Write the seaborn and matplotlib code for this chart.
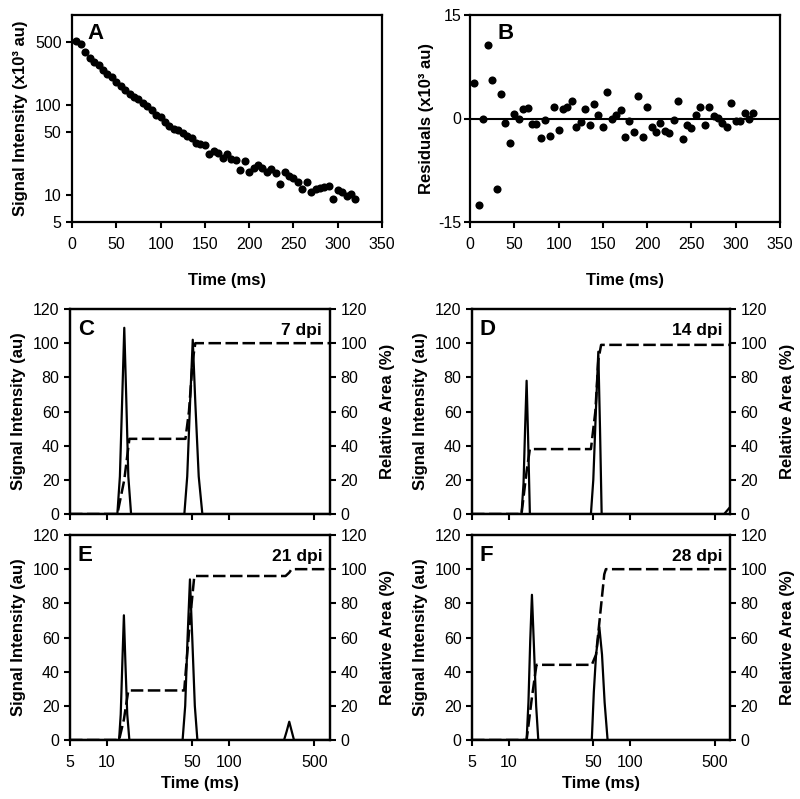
import numpy as np
import matplotlib
matplotlib.use("Agg")
import matplotlib.pyplot as plt
import seaborn as sns

sns.set_style("ticks")
plt.rcParams['font.family'] = ['Liberation Sans', 'DejaVu Sans']
plt.rcParams['axes.unicode_minus'] = False
plt.rcParams['text.color'] = 'black'
plt.rcParams['axes.labelcolor'] = 'black'

# ---- Panel A / B data (time in ms, signal and residuals in 10^3 au)
time_ab = list(range(5, 325, 5))
signal_a = [510, 470, 390, 333, 300, 275, 242, 222, 204, 182,
            162, 147, 133, 124, 115, 105, 97, 89, 77, 73,
            65, 59, 54, 53, 49, 45, 42.4, 38.2, 36.6, 36,
            28.3, 30.8, 29, 26, 28.3, 25.3, 24.5, 18.9, 23.9, 17.9,
            20, 21.5, 20, 17.9, 19.2, 17.7, 13.1, 17.9, 16.2, 15.5,
            13.9, 11.7, 13.9, 10.7, 11.7, 12, 12.3, 12.7, 8.9, 11.3,
            10.8, 9.7, 10.3, 9.1]
resid_b = [5.2, -12.5, 0, 10.7, 5.6, -10.2, 3.5, -0.7, -3.6, 0.6,
           0, 1.4, 1.5, -0.8, -0.8, -2.8, -0.2, -2.6, 1.6, -1.7,
           1.35, 1.7, 2.6, -1.2, -0.5, 1.35, -0.9, 2.1, 0.5, -1.3,
           3.9, -0.1, 0.5, 1.3, -2.7, -0.3, -1.9, 3.2, -2.7, 1.7,
           -1.2, -2.0, -0.6, -1.8, -2.1, -0.2, 2.6, -2.9, -1.0, -1.4,
           0.5, 1.6, -1.0, 1.7, 0.4, 0.05, -0.6, -1.2, 2.3, -0.3,
           -0.3, 0.8, 0, 0.8]

# ---- Panels C-F: T2 distributions (solid) and cumulative area (dashed)
c_t = [5, 12.2, 12.8, 13.4, 13.9, 14.4, 15.0, 15.8, 43.1, 45.5, 48, 50.5, 53, 56.5, 60.5, 670]
c_sig = [0, 0, 22, 70, 109, 70, 22, 0, 0, 22, 65, 102, 65, 22, 0, 0]
c_at = [5, 12.2, 13.9, 15.3, 44, 47, 50.5, 53, 670]
c_area = [0, 0, 20, 44, 44, 60, 90, 100, 100]

d_t = [5, 12.8, 13.3, 13.7, 14.1, 14.5, 15.0, 47.8, 50, 52.5, 55, 56.8, 58.6, 600, 670]
d_sig = [0, 0, 18, 50, 78, 45, 0, 0, 20, 60, 95, 50, 0, 0, 4]
d_at = [5, 12.8, 14.1, 15.0, 47.8, 52, 55, 58, 670]
d_area = [0, 0, 25, 38, 38, 60, 90, 99, 99]

e_t = [5, 12.6, 13.0, 13.4, 13.8, 14.2, 14.7, 15.3, 41.7, 43.8, 45.8, 47.9, 50, 52.5, 55.1,
       282, 296, 311, 326, 340, 670]
e_sig = [0, 0, 15, 45, 73, 45, 15, 0, 0, 20, 60, 94, 60, 20, 0,
         0, 5, 10.7, 5, 0, 0]
e_at = [5, 12.6, 13.8, 15.0, 43, 47.9, 52, 290, 311, 325, 670]
e_area = [0, 0, 12, 29, 29, 70, 96, 96, 98, 100, 100]

f_t = [5, 14.1, 14.6, 15.1, 15.6, 16.2, 16.9, 17.6, 48.6, 50.5, 52.7, 56.1, 59, 62, 65.6, 670]
f_sig = [0, 0, 22, 58, 85, 55, 20, 0, 0, 28, 50, 66, 50, 22, 0, 0]
f_at = [5, 14.1, 15.6, 17.0, 48.6, 52.7, 61.6, 63.5, 670]
f_area = [0, 0, 25, 44, 44, 50, 97, 100, 100]

dist_panels = [
    ("C", "7 dpi", c_t, c_sig, c_at, c_area),
    ("D", "14 dpi", d_t, d_sig, d_at, d_area),
    ("E", "21 dpi", e_t, e_sig, e_at, e_area),
    ("F", "28 dpi", f_t, f_sig, f_at, f_area),
]
log_ticks = [5, 10, 50, 100, 500]

W, H = 800, 799
fig = plt.figure(figsize=(8, 7.99), dpi=100)


def box(l, t, r, b):
    return [l / W, 1 - b / H, (r - l) / W, (b - t) / H]


def style(ax):
    for s in ax.spines.values():
        s.set_visible(True)
        s.set_linewidth(1.6)
        s.set_color('black')
    ax.tick_params(direction='out', length=4, width=1.5, labelsize=11.5,
                   colors='black')
    ax.tick_params(axis='x', pad=7)
    ax.tick_params(which='minor', length=0)


lab_font = dict(fontsize=12, fontweight='bold')

# ---- A
axA = fig.add_axes(box(72, 15, 382, 222))
sns.scatterplot(x=time_ab, y=signal_a, ax=axA, color='black', s=34,
                linewidth=0)
axA.set_yscale('log')
axA.set_ylim(5, 1000)
axA.set_yticks([5, 10, 50, 100, 500])
axA.set_yticklabels(['5', '10', '50', '100', '500'])
axA.set_xlim(0, 350)
axA.set_xticks(range(0, 351, 50))
axA.set_xlabel('Time (ms)', labelpad=15, **lab_font)
axA.set_ylabel('Signal Intensity (x10³ au)', labelpad=5, **lab_font)
style(axA)
axA.text(0.05, 0.96, 'A', transform=axA.transAxes, ha='left', va='top',
         fontsize=16, fontweight='bold')

# ---- B
axB = fig.add_axes(box(470, 15, 780, 222))
axB.axhline(0, color='black', lw=1.5)
sns.scatterplot(x=time_ab, y=resid_b, ax=axB, color='black', s=34,
                linewidth=0, zorder=3)
axB.set_ylim(-15, 15)
axB.set_yticks([-15, 0, 15])
axB.set_xlim(0, 350)
axB.set_xticks(range(0, 351, 50))
axB.set_xlabel('Time (ms)', labelpad=15, **lab_font)
axB.set_ylabel('Residuals (x10³ au)', labelpad=3, **lab_font)
style(axB)
axB.tick_params(axis='y', pad=2)
axB.text(0.09, 0.96, 'B', transform=axB.transAxes, ha='left', va='top',
         fontsize=16, fontweight='bold')

# ---- C-F
boxes = [box(70, 309, 330, 514), box(472, 309, 730, 514),
         box(70, 535, 330, 740), box(472, 535, 730, 740)]
for i, (letter, dpi, t, sig, at, area) in enumerate(dist_panels):
    ax = fig.add_axes(boxes[i])
    sns.lineplot(x=t, y=sig, ax=ax, color='black', lw=1.6, estimator=None,
                 sort=False)
    ax.set_xscale('log')
    ax.set_xlim(5, 670)
    ax.set_ylim(0, 120)
    ax.set_yticks(range(0, 121, 20))
    ax.set_xticks(log_ticks)
    ax.minorticks_off()
    ax.set_ylabel('Signal Intensity (au)', labelpad=5, **lab_font)
    style(ax)
    if i >= 2:
        ax.set_xticklabels([str(v) for v in log_ticks])
        ax.set_xlabel('Time (ms)', labelpad=4, **lab_font)
    else:
        ax.set_xticklabels([])
        ax.set_xlabel('')
    ax2 = ax.twinx()
    sns.lineplot(x=at, y=area, ax=ax2, color='black', lw=1.8,
                 estimator=None, sort=False, linestyle=(0, (5, 1.8)))
    ax2.set_ylim(0, 120)
    ax2.set_yticks(range(0, 121, 20))
    ax2.set_ylabel('Relative Area (%)', labelpad=9, **lab_font)
    style(ax2)
    ax2.set_xlim(5, 670)
    ax2.minorticks_off()
    ax.text(0.03, 0.95, letter, transform=ax.transAxes, ha='left', va='top',
            fontsize=16, fontweight='bold')
    ax.text(0.97, 0.93, dpi, transform=ax.transAxes, ha='right', va='top',
            fontsize=12.5, fontweight='bold')

fig.savefig('out.png', dpi=100)
